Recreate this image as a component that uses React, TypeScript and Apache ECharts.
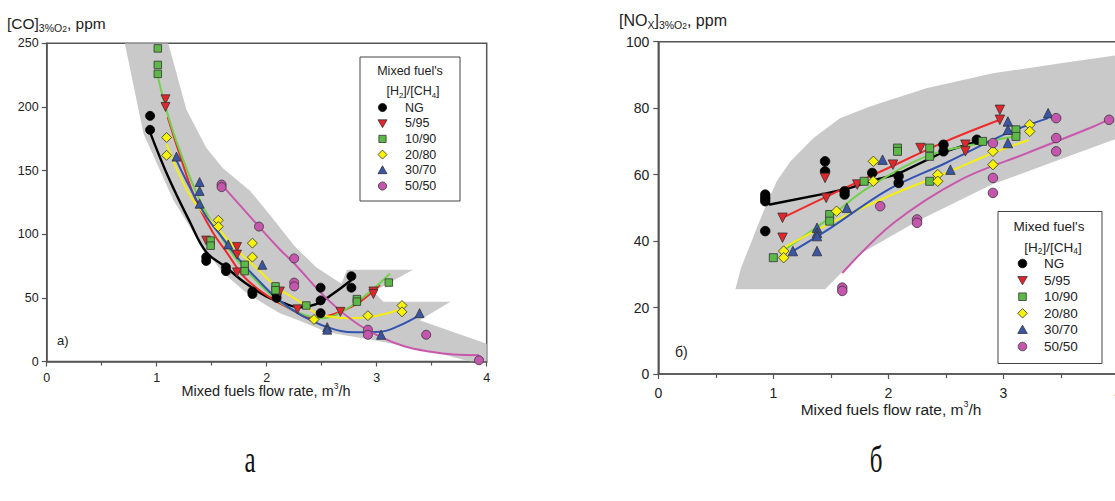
import React, { useEffect, useRef } from "react";
import * as echarts from "echarts";

const FONT = "'Liberation Sans', Arial, Helvetica, sans-serif";
const SERIF = "'Liberation Serif', 'DejaVu Serif', serif";

const GROUPS = ["NG", "5/95", "10/90", "20/80", "30/70", "50/50"];
const MARKER_COLORS = ["#000000", "#e2262c", "#5cb947", "#f6f20a", "#3a55a6", "#c456ae"];
const LINE_COLORS = ["#000000", "#ee2a2a", "#72d04c", "#f4ee12", "#3253b0", "#c958ad"];
const SYMBOLS = ["circle", "triangle", "rect", "diamond", "triangle", "circle"];
const SYMBOL_ROTATE = [0, 180, 0, 0, 0, 0];

// ---- (a) CO, ppm vs mixed fuel flow rate, m3/h ----
const coNG = [[0.94, 193], [0.94, 182], [1.45, 82], [1.45, 79], [1.63, 74], [1.63, 71], [1.87, 55], [1.87, 53], [2.09, 53], [2.09, 50], [2.49, 58], [2.49, 48], [2.49, 38], [2.77, 67], [2.77, 58]];
const co5 = [[1.08, 206], [1.08, 200], [1.45, 95], [1.73, 90], [1.73, 84], [1.73, 70], [2.12, 55], [2.28, 41], [2.67, 39], [2.97, 55], [2.97, 53]];
const co10 = [[1.01, 246], [1.01, 233], [1.01, 226], [1.49, 95], [1.49, 91], [1.8, 76], [1.8, 71], [2.08, 59], [2.08, 56], [2.36, 44], [2.82, 49], [2.82, 47], [3.11, 62]];
const co20 = [[1.09, 176], [1.09, 162], [1.56, 111], [1.56, 106], [1.87, 93], [1.87, 82], [2.43, 33], [2.92, 36], [3.23, 44], [3.23, 39]];
const co30 = [[1.18, 161], [1.39, 141], [1.39, 134], [1.39, 124], [1.65, 92], [1.96, 76], [2.55, 27], [2.55, 25], [3.04, 21], [3.39, 38]];
const co50 = [[1.59, 139], [1.59, 137], [1.93, 106], [2.25, 81], [2.25, 62], [2.25, 59], [2.92, 25], [2.92, 21], [3.45, 21], [3.93, 1]];

const coNGFit = [[0.94, 180], [1.1, 146], [1.3, 110], [1.45, 86], [1.63, 74], [1.8, 62], [2.0, 51], [2.15, 46], [2.3, 42.5], [2.45, 45], [2.6, 53], [2.77, 64]];
const co5Fit = [[1.1, 192], [1.2, 165], [1.35, 128], [1.5, 103], [1.65, 84], [1.8, 66], [2.0, 52], [2.2, 42], [2.42, 34], [2.67, 39], [2.85, 47], [3.03, 60]];
const co10Fit = [[1.01, 224], [1.09, 197], [1.2, 168], [1.39, 127], [1.55, 103], [1.7, 83], [1.9, 64], [2.1, 48], [2.3, 38], [2.5, 34], [2.7, 40], [2.9, 52], [3.12, 69]];
const co20Fit = [[1.09, 171], [1.2, 148], [1.33, 127], [1.55, 105], [1.75, 86], [1.9, 74], [2.1, 58], [2.3, 47], [2.45, 38], [2.6, 35], [2.75, 34], [3.0, 36], [3.22, 41]];
const co30Fit = [[1.18, 158], [1.3, 137], [1.45, 114], [1.6, 97], [1.75, 80], [1.9, 66], [2.1, 49], [2.3, 37], [2.55, 27], [2.8, 23], [3.03, 23.4], [3.2, 28], [3.39, 36.5]];
const co50Fit = [[1.6, 138], [1.93, 106], [2.12, 88], [2.25, 77], [2.55, 49], [2.8, 31], [3.03, 19.5], [3.25, 12], [3.49, 7.7], [3.7, 5.5], [3.93, 5]];

// scatter envelope with the two chevrons
const coBand = [
  [0.71, 250], [1.105, 250], [1.27, 198], [1.45, 168], [1.6, 152], [1.85, 134], [2.05, 113], [2.25, 91], [2.45, 74], [2.68, 61],
  [2.73, 72], [3.33, 72], [2.97, 55], [3.06, 47], [3.67, 47], [3.39, 32.5], [4.0, 14], [4.0, 0], [3.85, 0],
  [3.49, 8], [3.03, 16], [2.55, 23], [2.3, 32], [2.12, 38], [2.0, 44], [1.8, 55], [1.6, 70], [1.4, 92], [1.15, 127], [0.88, 179],
];

// ---- (б) NOx, ppm vs mixed fuel flow rate, m3/h ----
const noxNG = [[0.93, 54], [0.93, 53], [0.93, 52], [0.93, 43], [1.45, 64], [1.45, 61], [1.62, 55], [1.62, 54], [1.86, 60.5], [2.09, 59.5], [2.09, 57.5], [2.48, 69], [2.48, 67], [2.77, 70.5]];
const nox5 = [[1.08, 47], [1.08, 41], [1.45, 59], [1.46, 53], [1.73, 57], [2.04, 63], [2.28, 68], [2.67, 69], [2.67, 67], [2.97, 79.5], [2.97, 76.5]];
const nox10 = [[1.0, 35], [1.49, 48], [1.49, 46], [1.79, 58], [2.08, 68], [2.08, 67], [2.36, 68], [2.36, 65.5], [2.36, 58], [2.82, 70], [3.11, 73.5], [3.11, 71.5]];
const nox20 = [[1.09, 37], [1.09, 35], [1.55, 49], [1.87, 64], [1.87, 58], [2.43, 60], [2.43, 58], [2.91, 67], [2.91, 63], [3.23, 75], [3.23, 73]];
const nox30 = [[1.17, 37], [1.38, 44], [1.38, 42.5], [1.38, 41.5], [1.38, 37], [1.64, 50], [1.95, 64.5], [2.54, 61.5], [3.04, 76], [3.04, 73.5], [3.04, 69.5], [3.39, 78.5]];
const nox50 = [[1.6, 26], [1.6, 25], [1.93, 50.5], [2.25, 46.5], [2.25, 45.5], [2.91, 69.5], [2.91, 59], [2.91, 54.5], [3.46, 77], [3.46, 71], [3.46, 67], [3.92, 76.5]];

const noxNGFit = [[0.93, 52], [0.97, 51], [1.45, 54.3], [1.67, 56], [1.87, 58.3], [2.07, 60], [2.48, 66.8], [2.77, 70]];
const nox5Fit = [[1.08, 47], [1.5, 54], [2.0, 62], [2.5, 70], [2.97, 76.5]];
const nox10Fit = [[1.08, 37], [1.45, 46], [1.8, 55.5], [2.33, 65.5], [2.8, 69.5], [3.12, 71.6]];
const nox20Fit = [[1.09, 38], [1.5, 45.5], [2.0, 53.5], [2.5, 60.5], [2.91, 66.5], [3.22, 70.4]];
const nox30Fit = [[1.17, 37], [1.5, 44], [2.0, 55.5], [2.5, 63.5], [3.03, 72.4], [3.39, 77]];
const nox50Fit = [[1.6, 30.4], [2.04, 45.3], [2.62, 58.3], [3.2, 66.4], [3.78, 74.4], [3.92, 76.6]];

const noxBand = [
  [0.67, 25.5], [1.45, 25.5], [1.75, 36], [2.25, 46], [2.9, 57], [3.45, 64], [4.0, 71], [4.0, 96],
  [3.5, 93.5], [2.91, 90.5], [2.33, 86], [1.84, 80.5], [1.58, 77], [1.35, 71], [1.15, 64], [1.03, 58], [0.94, 51],
  [0.88, 46], [0.8, 39], [0.72, 32],
];

const CO_POINTS = [coNG, co5, co10, co20, co30, co50];
const CO_FITS = [coNGFit, co5Fit, co10Fit, co20Fit, co30Fit, co50Fit];
const NOX_POINTS = [noxNG, nox5, nox10, nox20, nox30, nox50];
const NOX_FITS = [noxNGFit, nox5Fit, nox10Fit, nox20Fit, nox30Fit, nox50Fit];

const AXIS_COLOR = "#555";
const TEXT_COLOR = "#222";

function bandSeries(points: number[][], axisIndex: number) {
  return {
    type: "custom",
    xAxisIndex: axisIndex,
    yAxisIndex: axisIndex,
    data: [[points[0][0], points[0][1]]],
    silent: true,
    clip: true,
    z: 1,
    renderItem: (_params: any, api: any) => ({
      type: "polygon",
      shape: { points: points.map((p) => api.coord(p)) },
      style: { fill: "#c9c9c9" },
    }),
  };
}

function fitSeries(data: number[][], i: number, axisIndex: number, smooth: number | boolean) {
  return {
    type: "line",
    name: GROUPS[i],
    xAxisIndex: axisIndex,
    yAxisIndex: axisIndex,
    data,
    smooth,
    symbol: "none",
    showSymbol: false,
    silent: true,
    z: 2,
    lineStyle: { color: LINE_COLORS[i], width: i === 0 ? 2.4 : 2 },
  };
}

function pointSeries(data: number[][], i: number, axisIndex: number, size: number) {
  return {
    type: "scatter",
    name: GROUPS[i],
    xAxisIndex: axisIndex,
    yAxisIndex: axisIndex,
    data,
    symbol: SYMBOLS[i],
    symbolRotate: SYMBOL_ROTATE[i],
    symbolSize: SYMBOLS[i] === "rect" ? size - 1.5 : SYMBOLS[i] === "diamond" ? size + 1 : size,
    silent: true,
    z: 3,
    itemStyle: {
      color: MARKER_COLORS[i],
      borderColor: i === 0 ? "#000" : "#333",
      borderWidth: 0.8,
      opacity: 1,
    },
  };
}

function legendMarker(i: number, cx: number, cy: number, s: number) {
  const h = s / 2;
  const style = { fill: MARKER_COLORS[i], stroke: i === 0 ? "#000" : "#333", lineWidth: 0.8 };
  if (i === 0 || i === 5) return { type: "circle", z: 101, shape: { cx, cy, r: h * 0.9 }, style };
  if (i === 1)
    return { type: "polygon", z: 101, shape: { points: [[cx - h, cy - h * 0.75], [cx + h, cy - h * 0.75], [cx, cy + h]] }, style };
  if (i === 2) return { type: "rect", z: 101, shape: { x: cx - h * 0.8, y: cy - h * 0.8, width: h * 1.6, height: h * 1.6 }, style };
  if (i === 3) return { type: "polygon", z: 101, shape: { points: [[cx, cy - h], [cx + h, cy], [cx, cy + h], [cx - h, cy]] }, style };
  return { type: "polygon", z: 101, shape: { points: [[cx, cy - h], [cx + h, cy + h * 0.75], [cx - h, cy + h * 0.75]] }, style };
}

function plainText(x: number, y: number, text: string, fontSize: number, align = "left", family = FONT) {
  return {
    type: "text",
    x,
    y,
    z: 100,
    style: {
      text,
      fontSize,
      fontFamily: family,
      fill: TEXT_COLOR,
      align,
      verticalAlign: "middle",
      textAlign: align,
      textVerticalAlign: "middle",
    },
  };
}

function richText(x: number, y: number, text: string, rich: any, align = "left") {
  return {
    type: "text",
    x,
    y,
    z: 100,
    style: {
      text,
      rich,
      fontFamily: FONT,
      fill: TEXT_COLOR,
      align,
      verticalAlign: "middle",
      textAlign: align,
      textVerticalAlign: "middle",
    },
  };
}

function subRich(main: number, sub: number, subsub: number) {
  return {
    a: { fontSize: main, lineHeight: 20, verticalAlign: "middle", fontFamily: FONT, fill: TEXT_COLOR },
    s: { fontSize: sub, lineHeight: 12, verticalAlign: "bottom", fontFamily: FONT, fill: TEXT_COLOR },
    t: { fontSize: subsub, lineHeight: 6, verticalAlign: "bottom", fontFamily: FONT, fill: TEXT_COLOR },
    u: { fontSize: sub * 0.85, lineHeight: 8, verticalAlign: "top", fontFamily: FONT, fill: TEXT_COLOR },
  };
}

function legendBlock(x: number, y: number, w: number, h: number, opts: any) {
  const els: any[] = [
    { type: "rect", z: 99, shape: { x, y, width: w, height: h }, style: { fill: "#fff", stroke: "#444", lineWidth: 1 } },
    plainText(opts.titleX, opts.titleY, "Mixed fuel's", opts.font, "center"),
    richText(opts.subX, opts.subY, "{a|[H}{s|2}{a|]/[CH}{s|4}{a|]}", {
      a: { fontSize: opts.font, lineHeight: 16, verticalAlign: "middle", fontFamily: FONT, fill: TEXT_COLOR },
      s: { fontSize: opts.font * 0.62, lineHeight: 9, verticalAlign: "bottom", fontFamily: FONT, fill: TEXT_COLOR },
    }, "center"),
  ];
  GROUPS.forEach((g, i) => {
    const cy = opts.rowY + i * opts.rowStep;
    els.push(legendMarker(i, opts.markerX, cy, opts.marker));
    els.push(plainText(opts.textX, cy, g, opts.font, "left"));
  });
  return els;
}

function xAxisCfg(gridIndex: number, fontSize: number, margin: number) {
  return {
    type: "value",
    gridIndex,
    min: 0,
    max: 4,
    interval: 1,
    axisLine: { show: true, onZero: false, lineStyle: { color: AXIS_COLOR, width: 1.5 } },
    axisTick: { show: true, length: 5, lineStyle: { color: AXIS_COLOR, width: 1.2 } },
    minorTick: { show: true, splitNumber: 2, length: 4, lineStyle: { color: AXIS_COLOR, width: 1.2 } },
    splitLine: { show: false },
    axisLabel: { fontSize, color: TEXT_COLOR, fontFamily: FONT, margin },
  };
}

function yAxisCfg(gridIndex: number, max: number, interval: number, fontSize: number, margin: number) {
  return {
    type: "value",
    gridIndex,
    min: 0,
    max,
    interval,
    axisLine: { show: true, onZero: false, lineStyle: { color: AXIS_COLOR, width: 1.5 } },
    axisTick: { show: true, length: 5, lineStyle: { color: AXIS_COLOR, width: 1.2 } },
    splitLine: { show: false },
    axisLabel: { fontSize, color: TEXT_COLOR, fontFamily: FONT, margin },
  };
}

export default function App() {
  const ref = useRef<HTMLDivElement>(null);

  useEffect(() => {
    if (!ref.current) return;
    const chart = echarts.init(ref.current, undefined, { renderer: "svg" });

    const series: any[] = [bandSeries(coBand, 0), bandSeries(noxBand, 1)];
    CO_FITS.forEach((d, i) => series.push(fitSeries(d, i, 0, 0.4)));
    NOX_FITS.forEach((d, i) => series.push(fitSeries(d, i, 1, i === 0 ? false : 0.35)));
    CO_POINTS.forEach((d, i) => series.push(pointSeries(d, i, 0, 9)));
    NOX_POINTS.forEach((d, i) => series.push(pointSeries(d, i, 1, 9.5)));

    const graphics: any[] = [
      // axis titles
      richText(7, 23, "{a|[CO]}{s|3%O}{t|2}{a|, ppm}", subRich(15.5, 10.5, 8.5)),
      richText(619, 20, "{a|[NO}{s|X}{a|]}{s|3%O}{t|2}{a|, ppm}", subRich(16, 10.5, 8.5)),
      richText(266, 391, "{a|Mixed fuels flow rate, m}{u|3}{a|/h}", subRich(14.5, 10, 8), "center"),
      richText(891, 409, "{a|Mixed fuels flow rate, m}{u|3}{a|/h}", subRich(15.5, 10.5, 8.5), "center"),
      // panel marks
      plainText(57, 340, "a)", 13),
      plainText(675, 352, "б)", 14),
      ...legendBlock(360, 57, 100, 144, {
        font: 12.5, titleX: 410, titleY: 71, subX: 413, subY: 91,
        rowY: 107.5, rowStep: 15.7, markerX: 382.5, textX: 405, marker: 9,
      }),
      ...legendBlock(998, 211.5, 104, 152, {
        font: 13.5, titleX: 1049, titleY: 226, subX: 1053, subY: 247,
        rowY: 263.5, rowStep: 16.6, markerX: 1022.5, textX: 1044, marker: 9.5,
      }),
    ];

    // figure captions below the two panels
    const captions = [
      { x: 250, text: "а" },
      { x: 876, text: "б" },
    ].map((c) => ({
      type: "text",
      x: c.x,
      y: 460,
      scaleY: 1.5,
      z: 100,
      style: {
        text: c.text,
        fontSize: 25,
        fontFamily: SERIF,
        fill: "#111",
        align: "center",
        verticalAlign: "middle",
        textAlign: "center",
        textVerticalAlign: "middle",
      },
    }));

    const gridBase = {
      show: true,
      borderColor: AXIS_COLOR,
      borderWidth: 1.5,
      backgroundColor: "transparent",
      containLabel: false,
      outerBoundsMode: "none",
    };

    chart.setOption({
      animation: false,
      backgroundColor: "#ffffff",
      grid: [
        { ...gridBase, left: 46.7, top: 43.3, width: 440, height: 318.2 },
        { ...gridBase, left: 658.3, top: 41.7, width: 460, height: 332.3 },
      ],
      xAxis: [xAxisCfg(0, 12.5, 10), xAxisCfg(1, 14, 12)],
      yAxis: [yAxisCfg(0, 250, 50, 12.5, 8), yAxisCfg(1, 100, 20, 14, 9)],
      series,
      graphic: { elements: [...graphics, ...captions] },
    });

    return () => chart.dispose();
  }, []);

  return (
    <div
      ref={ref}
      style={{ position: "absolute", left: 0, top: 0, width: 1115, height: 501, background: "#fff" }}
    />
  );
}
